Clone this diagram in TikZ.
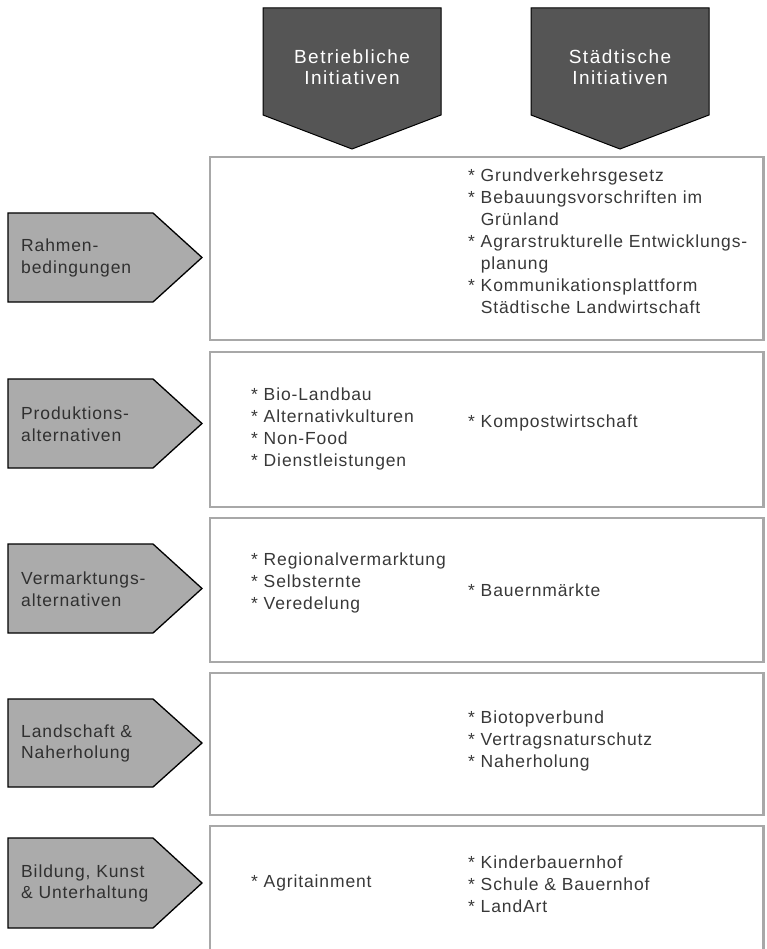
\documentclass[tikz,border=0pt]{standalone}
\usepackage{fontspec}
\setmainfont{Liberation Sans}[LetterSpace=5]
\newfontfamily\topfont{Liberation Sans}[LetterSpace=8]
\definecolor{topgray}{HTML}{555555}
\definecolor{sidegray}{HTML}{ABABAB}
\definecolor{panelgray}{HTML}{A8A8A8}
\definecolor{itemtext}{HTML}{383838}
\definecolor{labeltext}{HTML}{303030}
\begin{document}
\begin{tikzpicture}[x=1pt,y=-1pt,
  topbox/.style={fill=topgray, draw=black, line width=1pt, line join=miter},
  sidebox/.style={fill=sidegray, draw=black, line width=1.3pt, line join=miter},
  panel/.style={draw=panelgray, line width=2.5pt},
  toplabel/.style={text=white, font=\topfont\fontsize{19}{21.5}\selectfont, align=center, inner sep=0pt},
  sidelabel/.style={text=labeltext, font=\fontsize{17.5}{21.5}\selectfont, align=left, anchor=west, inner sep=0pt},
  item/.style={text=itemtext, font=\fontsize{17.5}{22}\selectfont, align=left, anchor=west, inner sep=0pt}]
\useasboundingbox (0,0) rectangle (766,949);
\clip (0,0) rectangle (766,949);
% top arrows
\draw[topbox] (263,8) -- (441,8) -- (441,115) -- (352,149) -- (263,115) -- cycle;
\node[toplabel] (betr) at (352,67) {Betriebliche\\Initiativen};
\draw[topbox] (531,8) -- (709,8) -- (709,115) -- (620,149) -- (531,115) -- cycle;
\node[toplabel] (staedt) at (620,67) {Städtische\\Initiativen};
% panels
\draw[panel] (210,157) rectangle (763.5,340);
\draw[panel] (210,352) rectangle (763.5,507);
\draw[panel] (210,518) rectangle (763.5,662);
\draw[panel] (210,673) rectangle (763.5,815);
\draw[panel] (210,826) rectangle (763.5,970);
% side arrows
\draw[sidebox] (8,213) -- (153,213) -- (202,257.5) -- (153,302) -- (8,302) -- cycle;
\node[sidelabel] (rahmen) at (21,258) {Rahmen-\\bedingungen};
\draw[sidebox] (8,379) -- (153,379) -- (202,423.5) -- (153,468) -- (8,468) -- cycle;
\node[sidelabel] (prod) at (21,424) {Produktions-\\alternativen};
\draw[sidebox] (8,544) -- (153,544) -- (202,588.5) -- (153,633) -- (8,633) -- cycle;
\node[sidelabel] (verm) at (21,589) {Vermarktungs-\\alternativen};
\draw[sidebox] (8,699) -- (153,699) -- (202,743) -- (153,787) -- (8,787) -- cycle;
\node[sidelabel] (land) at (21,743.5) {Landschaft \&\\Naherholung};
\draw[sidebox] (8,838) -- (153,838) -- (202,883) -- (153,928) -- (8,928) -- cycle;
\node[sidelabel] (bild) at (21,883.5) {Bildung, Kunst\\\& Unterhaltung};
% panel contents
\node[item] (r1) at (468,241) {* Grundverkehrsgesetz\\* Bebauungsvorschriften im\\\phantom{* }Grünland\\* Agrarstrukturelle Entwicklungs-\\\phantom{* }planung\\* Kommunikationsplattform\\\phantom{* }Städtische Landwirtschaft};
\node[item] (p1) at (251,428.5) {* Bio-Landbau\\* Alternativkulturen\\* Non-Food\\* Dienstleistungen};
\node[item] (p2) at (468,423) {* Kompostwirtschaft};
\node[item] (v1) at (251,582.5) {* Regionalvermarktung\\* Selbsternte\\* Veredelung};
\node[item] (v2) at (468,590) {* Bauernmärkte};
\node[item] (l2) at (468,741) {* Biotopverbund\\* Vertragsnaturschutz\\* Naherholung};
\node[item] (b1) at (251,883) {* Agritainment};
\node[item] (b2) at (468,884) {* Kinderbauernhof\\* Schule \& Bauernhof\\* LandArt};
\end{tikzpicture}
\end{document}
